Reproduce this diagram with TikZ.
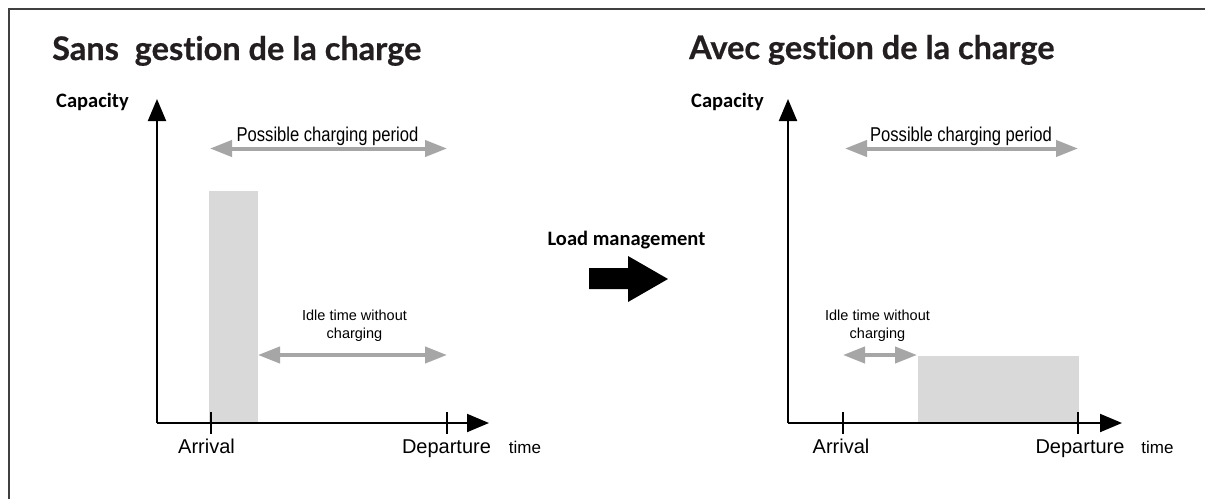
\documentclass[tikz,border=0pt]{standalone}
\usepackage{fontspec}
\setmainfont{Liberation Sans}
\newfontfamily\titlefont{Lato}[Ligatures={NoCommon,NoDiscretionary,NoContextual},BoldFeatures={FakeBold=0.6}]
\newfontfamily\calfont{Carlito}
\newfontfamily\narrowfont{Liberation Sans}[FakeStretch=0.83]
\usetikzlibrary{arrows.meta}
\definecolor{barfill}{HTML}{D9D9D9}
\definecolor{arrgray}{HTML}{A6A6A6}
\definecolor{framec}{HTML}{404040}
\definecolor{titlec}{HTML}{231F20}
\tikzset{
  axis/.style={line width=2pt, black, -{Triangle[length=22pt,width=18pt]}},
  tick/.style={line width=2pt, black},
  period/.style={line width=4pt, arrgray, {Triangle[length=22pt,width=16pt]}-{Triangle[length=22pt,width=16pt]}},
  bar/.style={fill=barfill, draw=none},
  titlelabel/.style={anchor=base west, inner sep=0pt, font=\titlefont\bfseries\fontsize{32.5}{38}\selectfont, text=titlec},
  caplabel/.style={anchor=base west, inner sep=0pt, font=\calfont\bfseries\fontsize{20.5}{24}\selectfont},
  plabel/.style={anchor=base, inner sep=0pt, font=\narrowfont\fontsize{20}{24}\selectfont},
  ilabel/.style={anchor=base, inner sep=0pt, font=\fontsize{14.5}{18}\selectfont},
  tlabel/.style={anchor=base, inner sep=0pt, font=\fontsize{20}{24}\selectfont},
  timelabel/.style={anchor=base, inner sep=0pt, font=\fontsize{17}{20}\selectfont},
}
\begin{document}
\begin{tikzpicture}[x=1pt,y=-1pt]
\useasboundingbox (0,0) rectangle (1205,499);
\fill[white] (0,0) rectangle (1205,499);
% frame
\draw[framec, line width=1.4pt] (9,499) -- (9,9) -- (1205,9);

% ===== Left chart =====
\node[titlelabel] (tL) at (52,60) {Sans\ \ gestion de la charge};
\node[caplabel] (cL) at (56,107) {Capacity};
\fill[bar] (209,191) rectangle (258,423);
\coordinate (oL) at (157,423);
\coordinate (yL) at (157,99);
\coordinate (xL) at (489,423);
\draw[axis] (oL) -- (yL);
\draw[axis] (oL) -- (xL);
\coordinate (aL1) at (210.5,412);
\coordinate (aL2) at (210.5,434);
\coordinate (dL1) at (447,412);
\coordinate (dL2) at (447,434);
\draw[tick] (aL1) -- (aL2);
\draw[tick] (dL1) -- (dL2);
\node[plabel] (pL) at (327.5,141.5) {Possible charging period};
\coordinate (pLa) at (210,148.5);
\coordinate (pLb) at (447,148.5);
\draw[period] (pLa) -- (pLb);
\node[ilabel] (iL1) at (354.5,320) {Idle time without};
\node[ilabel] (iL2) at (354.5,338) {charging};
\coordinate (iLa) at (258,355);
\coordinate (iLb) at (447,355);
\draw[period] (iLa) -- (iLb);
\node[tlabel] (arrL) at (206.5,453) {Arrival};
\node[tlabel] (depL) at (446.5,453) {Departure};
\node[timelabel] (timeL) at (525,453) {time};

% ===== Middle =====
\node[anchor=base, inner sep=0pt, font=\calfont\bfseries\fontsize{20.5}{24}\selectfont] (lm) at (626.5,245) {Load management};
\fill[black] (589,268) -- (628,268) -- (628,256) -- (668,279) -- (628,302) -- (628,289) -- (589,289) -- cycle;

% ===== Right chart =====
\node[titlelabel] (tR) at (689,59) {Avec gestion de la charge};
\node[caplabel] (cR) at (691,107) {Capacity};
\fill[bar] (918,356) rectangle (1079,423);
\coordinate (oR) at (788,423);
\coordinate (yR) at (788,99);
\coordinate (xR) at (1122,423);
\draw[axis] (oR) -- (yR);
\draw[axis] (oR) -- (xR);
\coordinate (aR1) at (843,412);
\coordinate (aR2) at (843,434);
\coordinate (dR1) at (1078,412);
\coordinate (dR2) at (1078,434);
\draw[tick] (aR1) -- (aR2);
\draw[tick] (dR1) -- (dR2);
\node[plabel] (pR) at (961,141.5) {Possible charging period};
\coordinate (pRa) at (845,148.5);
\coordinate (pRb) at (1078,148.5);
\draw[period] (pRa) -- (pRb);
\node[ilabel] (iR1) at (877.5,320) {Idle time without};
\node[ilabel] (iR2) at (877.5,338) {charging};
\coordinate (iRa) at (843,355);
\coordinate (iRb) at (917,355);
\draw[period] (iRa) -- (iRb);
\node[tlabel] (arrR) at (841,453) {Arrival};
\node[tlabel] (depR) at (1080,453) {Departure};
\node[timelabel] (timeR) at (1157.5,453) {time};
\end{tikzpicture}
\end{document}
